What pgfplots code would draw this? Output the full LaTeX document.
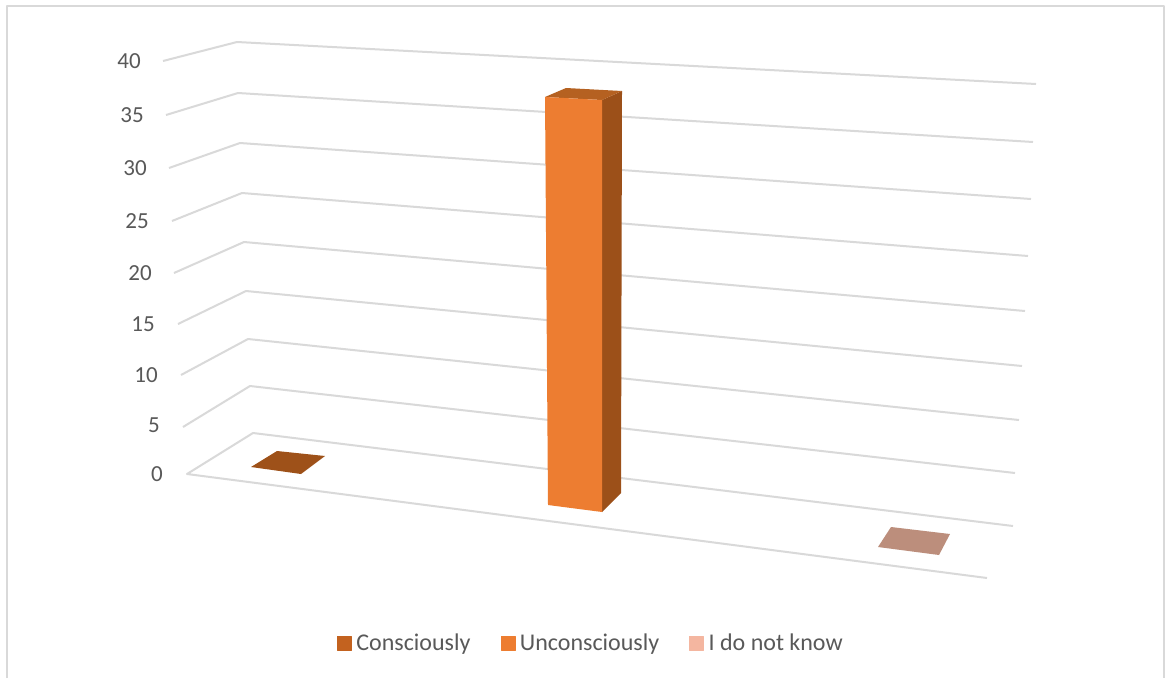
\documentclass[border=0pt]{standalone}
\usepackage{fontspec}
\setmainfont{Carlito}
\usepackage{pgfplots}
\pgfplotsset{compat=1.18}
\definecolor{gridgrey}{HTML}{D9D9D9}
\definecolor{labelgrey}{HTML}{595959}
\definecolor{barfront}{HTML}{ED7D31}
\definecolor{barside}{HTML}{9C5019}
\definecolor{bartop}{HTML}{B56121}
\definecolor{floorone}{HTML}{9E5119}
\definecolor{floorthree}{HTML}{BC8E7C}
\definecolor{keyone}{HTML}{C3621F}
\definecolor{keythree}{HTML}{F4B6A0}
\begin{document}
\begin{tikzpicture}[x=1pt,y=1pt]
\begin{axis}[
  scale only axis, width=1172pt, height=678pt,
  xmin=0, xmax=1172, ymin=0, ymax=678, y dir=reverse,
  hide axis, clip=true,
  legend columns=3,
  legend cell align=left,
  legend style={at={(axis cs:337,643)}, anchor=west, draw=none, fill=none,
    inner sep=0pt, outer sep=0pt,
    nodes={inner sep=0pt, outer sep=0pt, text=labelgrey, font=\fontsize{24}{26}\selectfont},
    /tikz/column 1/.style={column sep=5pt},
    /tikz/column 2/.style={column sep=30pt},
    /tikz/column 3/.style={column sep=5pt},
    /tikz/column 4/.style={column sep=30pt},
    /tikz/column 5/.style={column sep=5pt}},
]
% chart area frame, open along the bottom
\addplot[forget plot, fill=white, draw=none] coordinates {(0,0) (1172,0) (1172,678) (0,678)} -- cycle;
\addplot[forget plot, gridgrey, line width=2.2pt] coordinates {(7,678) (7,6) (1164,6) (1164,678)};

% receding grid lines of the value axis, 40 down to 5
\pgfplotsset{every axis plot/.append style={line join=round}}
\addplot[forget plot, gridgrey, line width=2pt] coordinates {(163,61) (237,42) (1036,84)};
\addplot[forget plot, gridgrey, line width=2pt] coordinates {(166,115) (238,93) (1033,142)};
\addplot[forget plot, gridgrey, line width=2pt] coordinates {(169,168) (240,143) (1031,199)};
\addplot[forget plot, gridgrey, line width=2pt] coordinates {(172,221) (242,193) (1028,256)};
\addplot[forget plot, gridgrey, line width=2pt] coordinates {(174,273) (244,242) (1025,311)};
\addplot[forget plot, gridgrey, line width=2pt] coordinates {(178,324) (246,291) (1022,366)};
\addplot[forget plot, gridgrey, line width=2pt] coordinates {(181,375) (248,339) (1019,420)};
\addplot[forget plot, gridgrey, line width=2pt] coordinates {(183,427) (250,386) (1015,473)};
% floor outline at zero
\addplot[forget plot, gridgrey, line width=2pt] coordinates {(1013,526) (253,433) (187,474) (987,578)};

% zero-height footprints
\addplot[forget plot, fill=floorone, draw=none] coordinates {(251,467) (277,451) (325,456) (301,474)} -- cycle;
\addplot[forget plot, fill=floorthree, draw=none] coordinates {(878,547) (891,527) (950,534) (939,555)} -- cycle;

% the one tall column: side, top, front
\addplot[forget plot, fill=barside, draw=none] coordinates {(602,100) (622,91) (621,493) (602,512)} -- cycle;
\addplot[forget plot, fill=bartop, draw=none] coordinates {(545,97) (566,88) (622,91) (602,100)} -- cycle;
\addplot[forget plot, fill=barfront, draw=none] coordinates {(545,97) (602,100) (602,512) (548,505)} -- cycle;

% value labels
\begin{scope}[every node/.style={anchor=east, text=labelgrey, font=\fontsize{23}{25}\selectfont, inner sep=0pt}]
\node at (axis cs:141,61) {40};
\node at (axis cs:144,115) {35};
\node at (axis cs:147,168) {30};
\node at (axis cs:149,221) {25};
\node at (axis cs:152,273) {20};
\node at (axis cs:155,324) {15};
\node at (axis cs:158,375) {10};
\node at (axis cs:160,425) {5};
\node at (axis cs:163,474) {0};
\end{scope}

\addlegendimage{legend image code/.code={\fill[keyone] (0pt,-7pt) rectangle (14pt,7pt);}}
\addlegendentry{Consciously}
\addlegendimage{legend image code/.code={\fill[barfront] (0pt,-7pt) rectangle (14pt,7pt);}}
\addlegendentry{Unconsciously}
\addlegendimage{legend image code/.code={\fill[keythree] (0pt,-7pt) rectangle (14pt,7pt);}}
\addlegendentry{I do not know}
\end{axis}
\end{tikzpicture}
\end{document}
